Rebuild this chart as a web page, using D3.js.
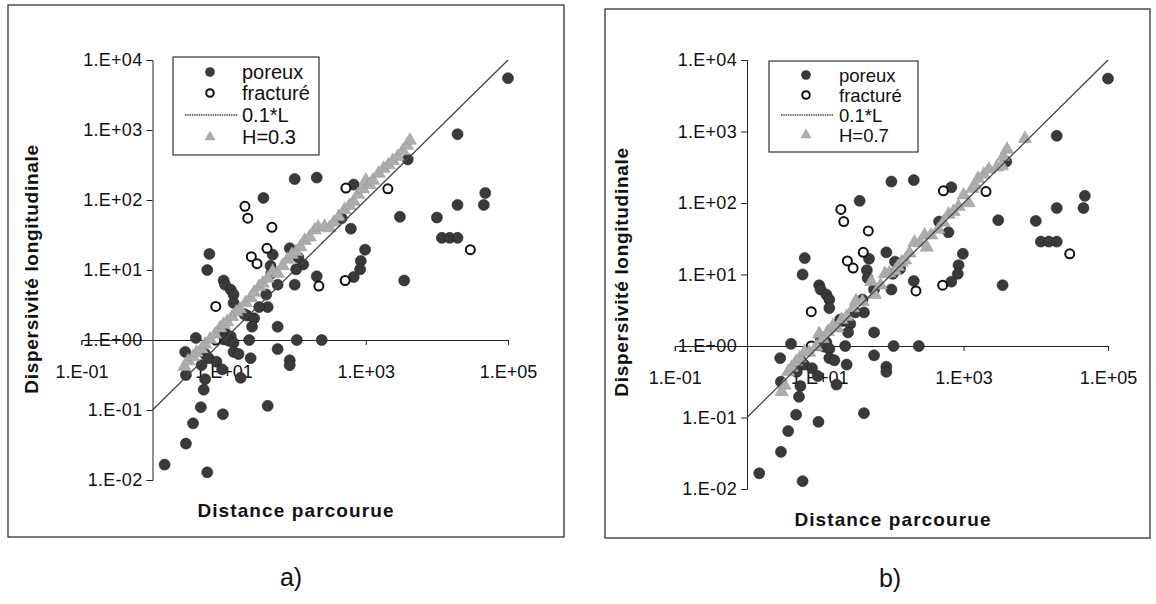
<!DOCTYPE html>
<html><head><meta charset="utf-8">
<script src="https://cdn.jsdelivr.net/npm/d3@7"></script>
<style>body{margin:0;background:#fff}svg{display:block}text{font-family:"Liberation Sans",Arial,sans-serif}</style>
</head><body>
<svg id="chart" width="1156" height="604"></svg>
<script>
// log10(distance), log10(dispersivity)
const poreux = [[5.00,3.74],[4.29,2.94],[3.59,2.58],[4.68,2.10],[4.66,1.93],[4.29,1.93],[4.00,1.75],[4.07,1.46],[4.18,1.46],[4.29,1.46],[3.48,1.76],[3.54,0.85],[2.99,1.29],[2.93,1.13],[2.92,1.01],[2.83,0.90],[2.31,2.32],[2.00,2.30],[1.56,2.03],[2.83,2.22],[2.79,1.59],[2.66,1.74],[2.31,0.91],[2.12,1.08],[2.38,0.00],[2.03,0.00],[1.36,0.00],[1.76,0.19],[1.76,-0.13],[1.93,-0.29],[1.93,-0.36],[1.62,-0.94],[1.24,-0.54],[0.99,-1.06],[0.68,-0.96],[0.57,-1.19],[0.47,-1.48],[0.17,-1.78],[0.77,-1.89],[0.72,-0.71],[0.74,-0.56],[0.47,-0.50],[0.46,-0.17],[0.61,0.03],[0.80,1.23],[0.77,1.00],[1.69,1.22],[1.93,1.31],[2.05,1.18],[2.02,1.01],[2.00,0.79],[1.66,1.06],[1.67,0.95],[1.76,0.79],[1.00,0.85],[1.02,0.79],[1.10,0.72],[1.14,0.65],[1.14,0.53],[1.60,0.65],[1.62,0.47],[1.50,0.47],[1.33,0.35],[1.43,0.31],[1.40,0.19],[1.29,0.37],[1.02,0.10],[1.10,0.05],[1.00,0.01],[1.07,-0.01],[1.14,-0.04],[0.74,-0.20],[0.79,-0.26],[0.90,-0.31],[0.98,-0.42],[1.14,-0.17],[1.21,-0.20],[1.38,-0.26],[0.69,-0.36]];
const fracture = [[1.30,1.91],[1.34,1.74],[1.68,1.61],[1.61,1.31],[1.39,1.19],[1.47,1.09],[0.89,0.48],[0.89,0.00],[2.34,0.77],[2.71,0.85],[2.72,2.17],[3.31,2.16],[4.47,1.29]];
const hurst03 = [[0.45,-0.38],[0.50,-0.30],[0.57,-0.24],[0.62,-0.18],[0.69,-0.13],[0.74,-0.06],[0.81,0.01],[0.88,0.08],[0.95,0.17],[1.00,0.22],[1.05,0.26],[1.12,0.33],[1.18,0.40],[1.23,0.44],[1.31,0.53],[1.38,0.60],[1.43,0.68],[1.50,0.76],[1.55,0.81],[1.62,0.88],[1.69,0.98],[1.76,0.95],[1.83,1.06],[1.90,1.15],[1.96,1.22],[2.02,1.26],[2.08,1.33],[2.14,1.42],[2.21,1.47],[2.28,1.57],[2.33,1.61],[2.42,1.62],[2.49,1.60],[2.55,1.68],[2.62,1.76],[2.70,1.86],[2.77,1.92],[2.83,1.98],[2.89,2.08],[2.96,2.16],[3.00,2.28],[3.05,2.22],[3.10,2.28],[3.18,2.38],[3.25,2.45],[3.32,2.50],[3.38,2.56],[3.45,2.62],[3.52,2.70],[3.58,2.78],[3.62,2.85]];
const hurst07 = [[0.48,-0.64],[0.52,-0.55],[0.57,-0.36],[0.62,-0.30],[0.68,-0.22],[0.73,-0.17],[0.80,-0.08],[0.86,-0.09],[0.96,-0.01],[1.00,0.17],[1.05,0.10],[1.12,0.20],[1.19,0.28],[1.25,0.25],[1.31,0.37],[1.38,0.41],[1.47,0.53],[1.51,0.63],[1.60,0.62],[1.72,0.90],[1.77,0.72],[1.85,0.85],[1.91,1.01],[1.97,1.02],[2.05,1.05],[2.09,1.11],[2.14,1.17],[2.19,1.20],[2.25,1.30],[2.32,1.45],[2.40,1.44],[2.46,1.55],[2.49,1.38],[2.55,1.55],[2.65,1.63],[2.72,1.73],[2.79,1.84],[2.86,1.88],[2.93,1.95],[3.00,2.11],[3.07,2.00],[3.12,2.20],[3.16,2.25],[3.20,2.34],[3.28,2.40],[3.35,2.47],[3.46,2.50],[3.53,2.52],[3.55,2.65],[3.60,2.75],[3.85,2.90]];
const refLineL = [1, 1e5];          // 0.1*L line
const xTicks = [0.1, 10, 1000, 100000];
const yTicks = [0.01, 0.1, 1, 10, 100, 1000, 10000];
const legendLabels = ["poreux", "fracturé", "0.1*L"];
const xTitle = "Distance parcourue";
const yTitle = "Dispersivité longitudinale";

const svg = d3.select("#chart");
svg.append("rect").attr("width",1156).attr("height",604).attr("fill","#fff");
const fmt = v => { const e = Math.round(Math.log10(v)); return "1.E" + (e < 0 ? "-" : "+") + String(Math.abs(e)).padStart(2,"0"); };

function panel(p, tri, triLabel, caption) {
  const g = svg.append("g");
  g.append("rect").attr("x",p.fx0).attr("y",p.fy0).attr("width",p.fx1-p.fx0).attr("height",p.fy1-p.fy0)
    .attr("fill","none").attr("stroke","#333").attr("stroke-width",1.3);
  const x = d3.scaleLog().domain([0.1,1e5]).range([p.x0,p.x1]);
  const y = d3.scaleLog().domain([0.01,1e4]).range([p.y0,p.y1]);
  const ya = g.append("g").attr("transform",`translate(${x(1)},0)`)
    .call(d3.axisLeft(y).tickValues(yTicks).tickFormat(fmt).tickSizeOuter(0).tickSize(6).tickPadding(4));
  const xa = g.append("g").attr("transform",`translate(0,${y(1)})`)
    .call(d3.axisBottom(x).tickValues(xTicks).tickFormat(fmt).tickSizeOuter(0).tickSize(5).tickPadding(20));
  [ya,xa].forEach(a=>{a.selectAll("path,line").attr("stroke","#222").attr("stroke-width",1);
    a.selectAll("text").attr("fill","#111").attr("font-size",18).attr("font-family",'"Liberation Sans",Arial,sans-serif');});
  ya.selectAll("text").attr("letter-spacing",0.3);
  const pts = g.append("g");
  pts.selectAll("circle.p").data(poreux).join("circle").attr("class","p")
    .attr("cx",d=>x(10**d[0])).attr("cy",d=>y(10**d[1])).attr("r",5.5)
    .attr("fill","#3a3a3a").attr("stroke","#222").attr("stroke-width",0.6);
  pts.selectAll("circle.f").data(fracture).join("circle").attr("class","f")
    .attr("cx",d=>x(10**d[0])).attr("cy",d=>y(10**d[1])).attr("r",4.5)
    .attr("fill","#fff").attr("stroke","#111").attr("stroke-width",2);
  g.append("path").datum(refLineL).attr("fill","none").attr("stroke","#444").attr("stroke-width",1.3)
    .attr("d",d3.line().x(d=>x(d)).y(d=>y(0.1*d)));
  const sym = d3.symbol().type(d3.symbolTriangle).size(78);
  pts.selectAll("path.t").data(tri).join("path").attr("class","t")
    .attr("transform",d=>`translate(${x(10**d[0])},${y(10**d[1])})`).attr("d",sym)
    .attr("fill","#adadad").attr("stroke","#999").attr("stroke-width",0.5);
  const L = g.append("g");
  L.append("rect").attr("x",p.lx0).attr("y",p.ly0).attr("width",p.lx1-p.lx0).attr("height",p.ly1-p.ly0)
    .attr("fill","#fff").attr("stroke","#333").attr("stroke-width",1.2);
  const labels = legendLabels.concat([triLabel]);
  labels.forEach((t,i)=>{
    const yy = p.rows[i];
    if (i===0) L.append("circle").attr("cx",p.sx).attr("cy",yy).attr("r",4.8).attr("fill","#3a3a3a");
    if (i===1) L.append("circle").attr("cx",p.sx).attr("cy",yy).attr("r",3.8).attr("fill","#fff").attr("stroke","#111").attr("stroke-width",2);
    if (i===2) L.append("line").attr("x1",p.lnx0).attr("x2",p.lnx1).attr("y1",yy).attr("y2",yy).attr("stroke","#777").attr("stroke-width",2).attr("stroke-dasharray","1.5,0.8");
    if (i===3) L.append("path").attr("transform",`translate(${p.sx},${yy})`).attr("d",d3.symbol().type(d3.symbolTriangle).size(55)).attr("fill","#adadad");
    L.append("text").attr("x",p.tx).attr("y",yy+7).attr("font-size",p.lfs).attr("fill","#111").text(t);
  });
  g.append("text").attr("x",p.xtx).attr("y",p.xty).attr("text-anchor","middle").attr("font-size",19)
    .attr("font-weight","bold").attr("letter-spacing",1.1).attr("fill","#111").text(xTitle);
  g.append("text").attr("transform",`translate(${p.ytx},${p.yty}) rotate(-90)`).attr("text-anchor","middle")
    .attr("font-size",19).attr("font-weight","bold").attr("letter-spacing",0.7).attr("fill","#111").text(yTitle);
  g.append("text").attr("x",p.cx).attr("y",p.cy).attr("text-anchor","middle").attr("font-size",25).attr("fill","#111").text(caption);
}

panel({fx0:8,fy0:5,fx1:564,fy1:537, x0:81.4,x1:508, y0:480,y1:60,
  lx0:173,ly0:57,lx1:319,ly1:155, rows:[72,93,115,137], sx:210, lnx0:185, lnx1:238, tx:242, lfs:20,
  xtx:296, xty:517, ytx:38, yty:269, cx:291, cy:586}, hurst03, "H=0.3", "a)");
panel({fx0:605,fy0:9,fx1:1150,fy1:538, x0:674.8,x1:1108, y0:489,y1:60,
  lx0:769,ly0:61,lx1:918,ly1:152, rows:[75,95,115,135], sx:806, lnx0:781, lnx1:833, tx:839, lfs:18.5,
  xtx:893, xty:526, ytx:628, yty:272, cx:890, cy:587}, hurst07, "H=0.7", "b)");
</script>
</body></html>
